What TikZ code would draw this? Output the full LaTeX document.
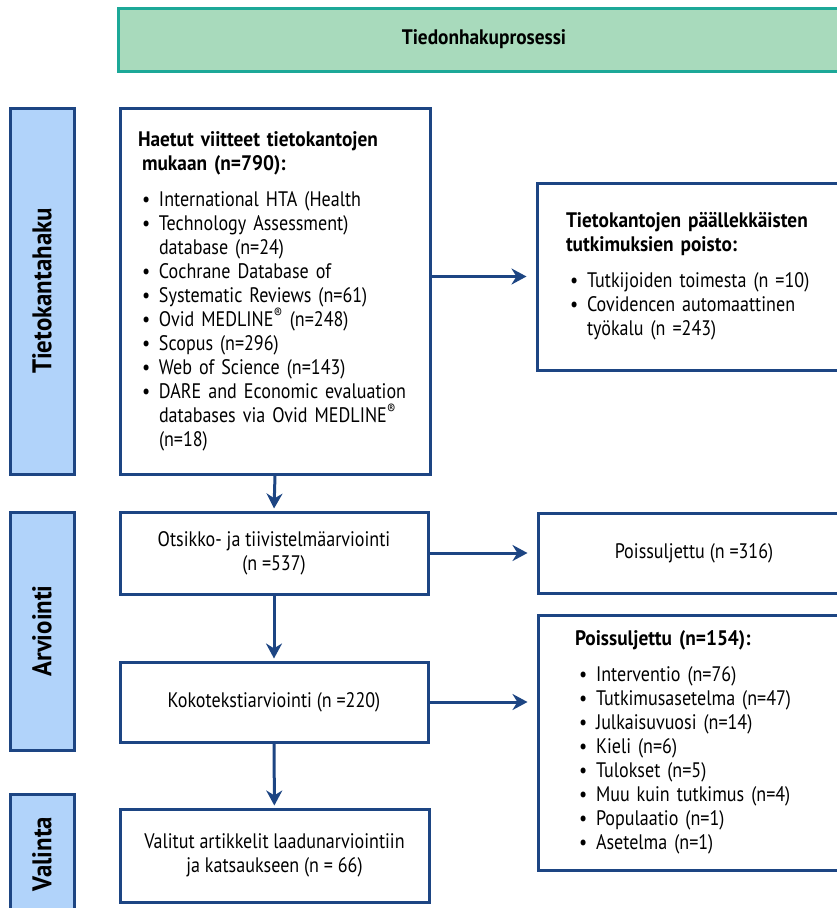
\documentclass[tikz,border=0pt]{standalone}
\usepackage{fontspec}
\setmainfont{PT Sans}[FakeStretch=0.86, BoldFeatures={FakeStretch=0.92}]
\usetikzlibrary{positioning,arrows.meta}

\definecolor{navy}{HTML}{1D4583}
\definecolor{phasefill}{HTML}{B1D3FA}
\definecolor{headfill}{HTML}{A8DABC}
\definecolor{headline}{HTML}{1CA898}

\newcommand{\bodysize}{\fontsize{21}{24}\selectfont}
\newcommand{\phasesize}{\fontsize{27}{30}\selectfont}
\newcommand{\bul}{\hspace*{4pt}\makebox[17pt][l]{\textbullet}}
\newcommand{\cont}{\hspace*{21pt}}

\tikzset{
  headbox/.style={draw=headline, fill=headfill, line width=3pt, font=\bodysize\bfseries},
  phase/.style={draw=navy, fill=phasefill, line width=3pt, rotate=90, font=\phasesize\bfseries,
                minimum height=64pt, inner sep=0pt},
  box/.style={draw=navy, fill=white, line width=3pt, font=\bodysize, align=center},
  listbox/.style={box, align=left, inner ysep=0pt},
  arr/.style={->, navy, line width=3pt}
}

\begin{document}
\begin{tikzpicture}[x=1pt, y=-1pt, >={Stealth[length=15pt,width=16pt]}]

	\useasboundingbox (0,0) rectangle (837,908);
	\clip (0,0) rectangle (837,908);

	\node[headbox, minimum width=732pt, minimum height=63pt] (head) at (484,39.5) {Tiedonhakuprosessi};

	\node[phase, minimum width=366pt] (tk)  at (42,291) {Tietokantahaku};
	\node[phase, minimum width=238pt] (arv) at (42,631) {Arviointi};
	\node[phase, minimum width=120pt] (val) at (42,854) {Valinta};

	\node[listbox, text width=274pt, inner xsep=18pt, minimum height=366pt] (hae) at (275,291) {%
		\textbf{Haetut viitteet tietokantojen}\\
		\textbf{\hspace*{4pt}mukaan (n=790):}\\[12pt]
		\bul International HTA (Health\\
		\bul Technology Assessment)\\
		\cont database (n=24)\\
		\bul Cochrane Database of\\
		\bul Systematic Reviews (n=61)\\
		\bul Ovid MEDLINE\textsuperscript{®} (n=248)\\
		\bul Scopus (n=296)\\
		\bul Web of Science (n=143)\\
		\bul DARE and Economic evaluation\\
		\cont databases via Ovid MEDLINE\textsuperscript{®}\\
		\cont (n=18)};

	\node[listbox, text width=255pt, inner xsep=29pt, minimum height=187pt] (dup) at (693.5,276.5) {%
		\textbf{Tietokantojen päällekkäisten}\\
		\textbf{tutkimuksien poisto:}\\[12pt]
		\bul Tutkijoiden toimesta (n =10)\\
		\bul Covidencen automaattinen\\
		\cont työkalu (n =243)};

	\node[box, minimum width=308pt, minimum height=82pt] (ots)  at (274,553)   {Otsikko- ja tiivistelmäarviointi\\(n =537)};
	\node[box, minimum width=312pt, minimum height=80pt] (ps1)  at (694,553)   {Poissuljettu (n =316)};
	\node[box, minimum width=308pt, minimum height=80pt] (koko) at (274,702)   {Kokotekstiarviointi (n =220)};
	\node[box, minimum width=309pt, minimum height=93pt] (valit) at (274.5,855.5) {Valitut artikkelit laadunarviointiin\\ja katsaukseen (n = 66)};

	\node[listbox, text width=238pt, inner xsep=37pt, minimum height=255pt] (ps2) at (694,742.5) {%
		\textbf{Poissuljettu (n=154):}\\[12pt]
		\bul Interventio (n=76)\\
		\bul Tutkimusasetelma (n=47)\\
		\bul Julkaisuvuosi (n=14)\\
		\bul Kieli (n=6)\\
		\bul Tulokset (n=5)\\
		\bul Muu kuin tutkimus (n=4)\\
		\bul Populaatio (n=1)\\
		\bul Asetelma (n=1)};

	\draw[arr, shorten >=9pt] (hae.east |- dup.west) -- (dup.west);
	\draw[arr, shorten >=9pt] (ots) -- (ps1);
	\draw[arr, shorten >=9pt] (koko.east) -- (koko.east -| ps2.west);
	\draw[arr, shorten >=2pt] (hae.south) -- (ots.north);
	\draw[arr, shorten >=2pt] (ots) -- (koko);
	\draw[arr, shorten >=2pt] (koko) -- (valit);
\end{tikzpicture}
\end{document}
